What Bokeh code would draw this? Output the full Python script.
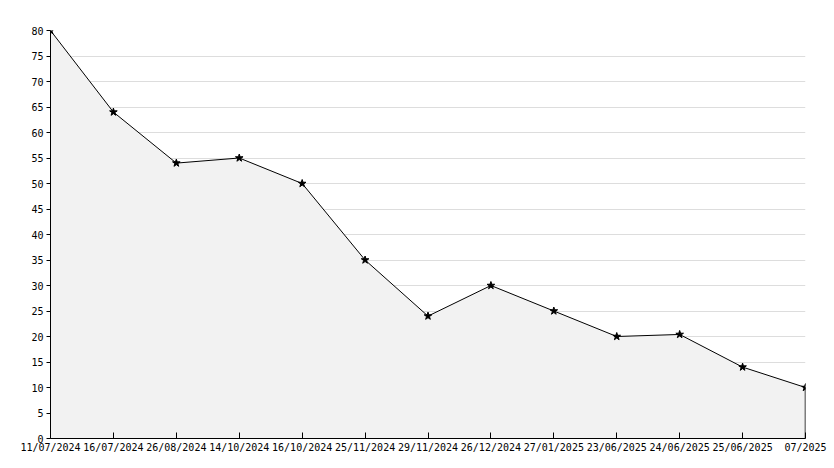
from bokeh.plotting import figure
from bokeh.models import Range1d, FixedTicker
from bokeh.embed import file_html
from bokeh.resources import INLINE

dates = ["11/07/2024", "16/07/2024", "26/08/2024", "14/10/2024", "16/10/2024",
         "25/11/2024", "29/11/2024", "26/12/2024", "27/01/2025", "23/06/2025",
         "24/06/2025", "25/06/2025", "07/2025"]
values = [80, 64, 54, 55, 50, 35, 24, 30, 25, 20, 20.4, 14, 10]
y_ticks = list(range(0, 81, 5))

xs = list(range(len(dates)))

p = figure(width=834, height=468, output_backend="svg", toolbar_location=None,
           x_range=Range1d(0, len(dates) - 1), y_range=Range1d(0, 80),
           min_border_left=50, min_border_right=29, min_border_top=30, min_border_bottom=30)
p.outline_line_color = None
p.background_fill_color = "white"

p.varea(x=xs, y1=[0] * len(xs), y2=values, fill_color="#f2f2f2")
p.line(xs, values, line_color="black", line_width=1)
p.segment(x0=[xs[-1]], y0=[0], x1=[xs[-1]], y1=[values[-1]], line_color="black", line_width=1.5)
p.scatter(xs, values, marker="star", size=8, fill_color="black", line_color="black")

p.xgrid.grid_line_color = None
p.ygrid.grid_line_color = "#dddddd"
p.ygrid.ticker = FixedTicker(ticks=y_ticks)

p.xaxis.ticker = FixedTicker(ticks=xs)
p.xaxis.major_label_overrides = {i: d for i, d in enumerate(dates)}
p.xaxis.major_tick_in = 6
p.xaxis.major_tick_out = 0
p.xaxis.major_label_standoff = 3

p.yaxis.ticker = FixedTicker(ticks=y_ticks, minor_ticks=list(range(0, 81)))
p.yaxis.major_tick_in = 0
p.yaxis.major_tick_out = 4
p.yaxis.minor_tick_in = 4
p.yaxis.minor_tick_out = 0
p.yaxis.major_label_standoff = 3

for ax in (p.xaxis, p.yaxis):
    ax.axis_line_color = "black"
    ax.major_tick_line_color = "black"
    ax.minor_tick_line_color = "black" if ax is p.yaxis else None
    ax.major_label_text_font = "DejaVu Sans Mono"
    ax.major_label_text_font_size = "10px"
    ax.major_label_text_color = "black"

open("out.html", "w").write(file_html(p, INLINE))
